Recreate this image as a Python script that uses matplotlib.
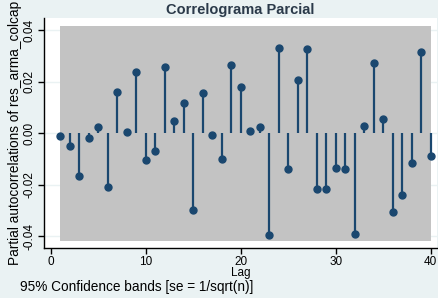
import numpy as np
import matplotlib
matplotlib.use("Agg")
from matplotlib import pyplot as plt

plt.rcParams['font.family'] = ['Liberation Sans', 'DejaVu Sans']

# partial autocorrelations, lags 1..40
lags = np.arange(1, 41)
pac = [-0.0009, -0.0049, -0.0165, -0.0018, 0.0023, -0.0208, 0.0161, 0.0006, 0.0237, -0.0104,
       -0.0068, 0.0258, 0.0048, 0.0119, -0.0298, 0.0156, -0.0007, -0.0100, 0.0266, 0.0179,
       0.0009, 0.0023, -0.0396, 0.0331, -0.0139, 0.0207, 0.0327, -0.0218, -0.0218, -0.0134,
       -0.0139, -0.0392, 0.0030, 0.0275, 0.0056, -0.0305, -0.0241, -0.0114, 0.0317, -0.0088]
band = 0.0417  # 95% confidence band half-width
yticks = [-0.04, -0.02, 0.00, 0.02, 0.04]
xticks = [0, 10, 20, 30, 40]

navy = '#1A476F'
bg = '#EAF2F3'

fig = plt.figure(figsize=(4.39, 2.98), dpi=100, facecolor=bg)
ax = fig.add_axes([44/439, 50/298, 393/439, 230/298])
ax.set_facecolor('white')

ax.fill_between([lags[0], lags[-1]], -band, band, color='#C3C3C3', lw=0, zorder=1)
ax.vlines(lags, 0, pac, color=navy, lw=1.6, zorder=2)
ax.plot(lags, pac, 'o', color=navy, ms=5, zorder=3)

ax.set_xlim(-0.7, 40.66)
ax.set_ylim(-0.0446, 0.0448)
ax.set_yticks(yticks)
ax.set_yticklabels(['%.2f' % v for v in yticks], rotation=90, va='center')
ax.set_xticks(xticks)
ax.yaxis.grid(True, color='#EAF2F3', lw=1, zorder=0)
ax.set_axisbelow(True)
for s in ['top', 'right']:
    ax.spines[s].set_visible(False)
for s in ['left', 'bottom']:
    ax.spines[s].set_color('black')
    ax.spines[s].set_linewidth(1.0)
ax.tick_params(direction='out', length=4, width=1, labelsize=8.5, colors='black', pad=2)

ax.set_title('Correlograma Parcial', fontsize=10.5, fontweight='bold', color='#2b3a4a', pad=3)
ax.set_ylabel('Partial autocorrelations of res_arma_colcap', fontsize=9.8, labelpad=1)
ax.set_xlabel('Lag', fontsize=8.5, labelpad=-1)
fig.text(20/439, 1 - 287/298, '95% Confidence bands [se = 1/sqrt(n)]', fontsize=9.8, va='center', ha='left')

fig.savefig('out.png', dpi=100, facecolor=bg)
